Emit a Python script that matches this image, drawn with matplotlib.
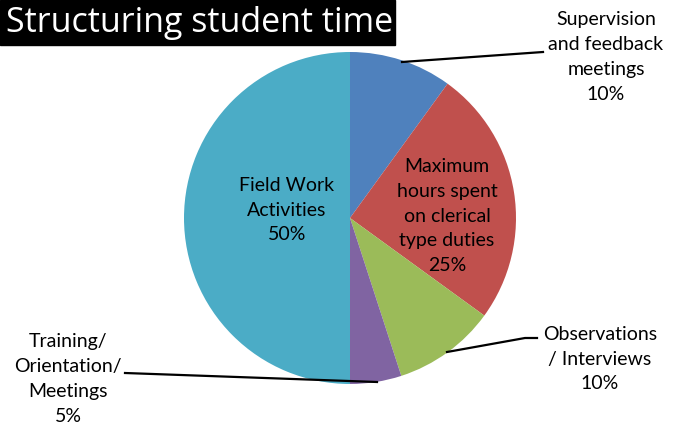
import matplotlib
matplotlib.use("Agg")
import matplotlib.pyplot as plt
from matplotlib.patches import Rectangle

categories = ["Supervision\nand feedback\nmeetings", "Maximum\nhours spent\non clerical\ntype duties",
              "Observations\n/ Interviews", "Training/\nOrientation/\nMeetings", "Field Work\nActivities"]
values = [10, 25, 10, 5, 50]
colors = ["#4F81BD", "#C0504D", "#9BBB59", "#8064A2", "#4BACC6"]
title = "Structuring student time"

W, H = 673, 430
fig = plt.figure(figsize=(W / 100, H / 100), dpi=100)
ax = fig.add_axes([0, 0, 1, 1])

cx, cy, r = 350, H - 218, 166
wedges, _ = ax.pie(values, colors=colors, startangle=90, counterclock=False,
                   center=(cx, cy), radius=r, frame=True,
                   wedgeprops=dict(linewidth=0))
ax.set_xlim(0, W)
ax.set_ylim(0, H)
ax.set_aspect("equal")
ax.axis("off")

font = "Lato"
fs = 14
ls = 1.55
labels = [f"{c}\n{v}%" for c, v in zip(categories, values)]

# inside labels
ax.text(287, H - 210, labels[4], ha="center", va="center", fontsize=fs, family=font, linespacing=ls)
ax.text(447, H - 216, labels[1], ha="center", va="center", fontsize=fs, family=font, linespacing=ls)
# outside labels
ax.text(606, H - 57, labels[0], ha="center", va="center", fontsize=fs, family=font, linespacing=ls)
ax.text(600, H - 359, labels[2], ha="center", va="center", fontsize=fs, family=font, linespacing=ls)
ax.text(68, H - 379, labels[3], ha="center", va="center", fontsize=fs, family=font, linespacing=ls)

# leader lines
ax.plot([402, 543], [H - 62, H - 52], color="black", lw=1.6)
ax.plot([447, 525, 537], [H - 352, H - 338, H - 338], color="black", lw=1.6)
ax.plot([125, 377], [H - 373, H - 382], color="black", lw=1.6)

# title box
ax.add_patch(Rectangle((0, H - 45), 395, 45, color="black", zorder=5))
ax.text(6, H - 23, title, ha="left", va="center", fontsize=24.5, color="white",
        family="Open Sans", zorder=6)

fig.savefig("out.png", dpi=100)
